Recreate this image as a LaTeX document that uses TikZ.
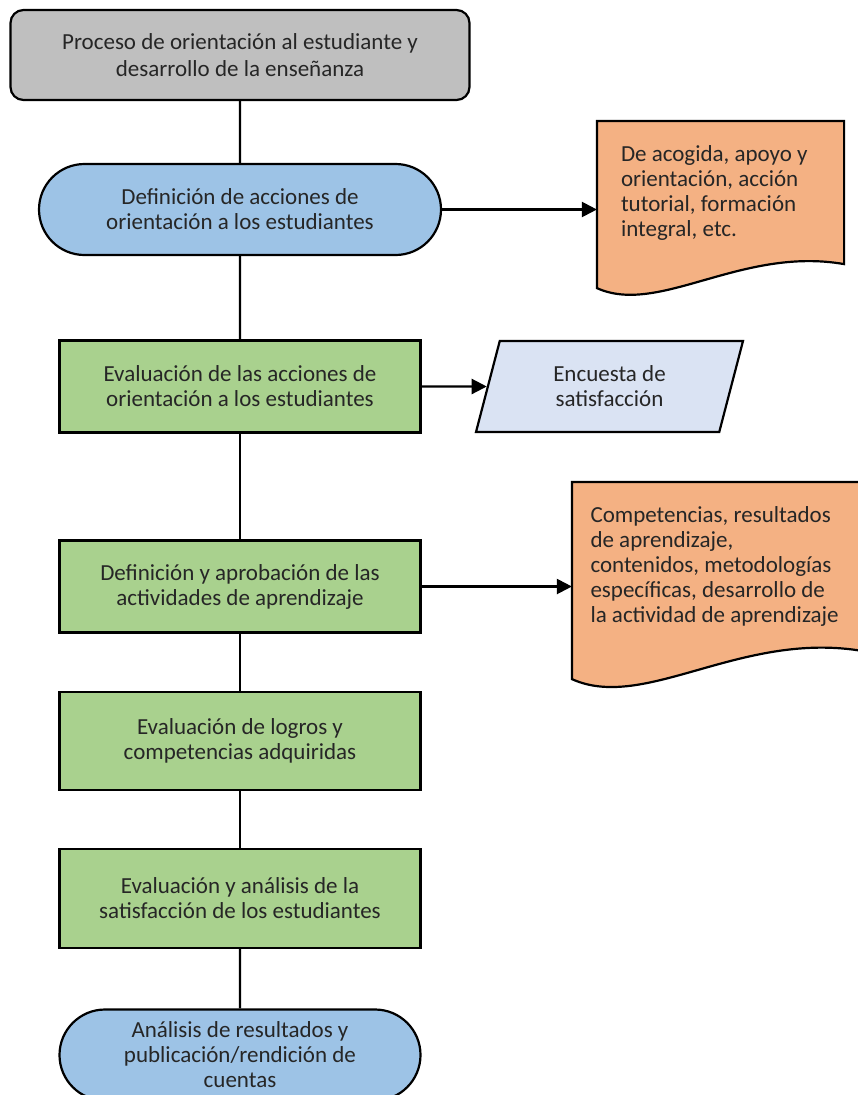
\documentclass[tikz,border=0pt]{standalone}
\usepackage{fontspec}
\setmainfont{Carlito}
\usetikzlibrary{shapes.misc,shapes.geometric,arrows.meta,backgrounds}
\definecolor{grisbox}{HTML}{BFBFBF}
\definecolor{azul}{HTML}{9DC3E6}
\definecolor{verde}{HTML}{A9D18E}
\definecolor{naranja}{HTML}{F4B183}
\definecolor{azulclaro}{HTML}{DAE3F3}
\definecolor{texto}{HTML}{262626}

\begin{document}
\begin{tikzpicture}
[x=1pt,y=-1pt,line width=2.2pt,font=\fontsize{23}{25}\selectfont,
every node/.style={draw,text=texto,align=center,inner sep=0pt},
inicio/.style={rectangle,rounded corners=13pt,fill=grisbox,minimum width=459pt,minimum height=90pt,font=\fontsize{23}{27}\selectfont},
terminal/.style={rounded rectangle,fill=azul,minimum height=91pt},
proceso/.style={rectangle,fill=verde,minimum width=361pt},
datos/.style={trapezium,trapezium left angle=60,trapezium right angle=120,trapezium stretches body,fill=azulclaro,minimum width=267pt,minimum height=91pt},
documento/.style={rectangle,draw=none,align=flush left},
hoja/.style={draw,line width=2.2pt,fill=naranja},
flecha/.style={-{Triangle[length=15pt,width=15pt]}}]
\useasboundingbox (0,0) rectangle (858,1095);

\node[inicio] (inicio) at (240,55) {Proceso de orientación al estudiante y\\desarrollo de la enseñanza};
\node[terminal,minimum width=402pt] (term1) at (240,209.5) {Definición de acciones de\\orientación a los estudiantes};
\node[documento,minimum width=245pt,minimum height=141pt,text width=199pt] (doc1) at (720.5,192.5) {De acogida, apoyo y\\orientación, acción\\tutorial, formación\\integral, etc.};
\node[proceso,minimum height=92pt] (eval1) at (240,386.5) {Evaluación de las acciones de\\orientación a los estudiantes};
\node[datos] (encuesta) at (609.5,386.5) {Encuesta de\\satisfacción};
\node[proceso,minimum height=92pt] (activ) at (240,586.5) {Definición y aprobación de las\\actividades de aprendizaje};
\node[documento,minimum width=289pt,minimum height=167pt,text width=254pt] (doc2) at (717.5,566.5) {Competencias, resultados\\de aprendizaje,\\contenidos, metodologías\\específicas, desarrollo de\\la actividad de aprendizaje};
\node[proceso,minimum height=98pt] (logros) at (240,741) {Evaluación de logros y\\competencias adquiridas};
\node[proceso,minimum height=99pt] (satisf) at (240,898.5) {Evaluación y análisis de la\\satisfacción de los estudiantes};
\node[terminal,minimum width=361pt] (term2) at (240,1055) {Análisis de resultados y\\publicación/rendición de\\cuentas};

% hojas de documento
\begin{scope}[on background layer]
\draw[hoja] ([shift={(0,24)}]doc1.south west) .. controls +(62,28) and +(-103,-18) .. (doc1.south east) -- (doc1.north east) -- (doc1.north west) -- cycle;
\draw[hoja] ([shift={(0,28)}]doc2.south west) .. controls +(73,33) and +(-122,-21) .. (doc2.south east) -- (doc2.north east) -- (doc2.north west) -- cycle;
\end{scope}

\foreach \from/\to in {inicio/term1,term1/eval1,eval1/activ,activ/logros,logros/satisf,satisf/term2}
\draw (\from) -- (\to);

\draw[flecha] (term1.east) -- (term1.east -| doc1.west);
\draw[flecha] (eval1) -- (encuesta);
\draw[flecha] (activ.east) -- (activ.east -| doc2.west);

\end{tikzpicture}
\end{document}
